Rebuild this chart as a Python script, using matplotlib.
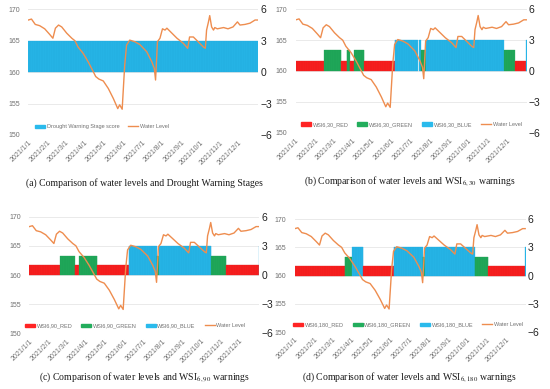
import matplotlib
matplotlib.use("Agg")
import matplotlib.pyplot as plt
from matplotlib.patches import Patch
from matplotlib.lines import Line2D
import numpy as np
import pandas as pd

plt.rcParams['font.family'] = ['Liberation Sans', 'DejaVu Sans']
plt.rcParams['mathtext.fontset'] = 'stix'

# water level (left axis): day of year -> level
wl_day = [0, 5, 11, 18, 26, 34, 39, 43, 48, 53, 61, 69, 74, 79, 87, 95, 103, 107,
          112, 119, 127, 135, 142, 145, 149, 153, 156, 161, 169, 177, 188, 196, 200,
          202, 205, 209, 213, 217, 220, 228, 236, 246, 253, 256, 262, 270, 278, 281,
          283, 286, 288, 291, 294, 296, 300, 310, 317, 325, 332, 336, 344, 352, 360, 364]
wl_level = [168.3, 168.45, 167.6, 167.4, 166.9, 166.0, 165.4, 167.0, 167.5, 167.2,
            166.2, 165.4, 165.0, 164.0, 163.0, 161.65, 160.1, 159.3, 158.9, 158.6,
            157.4, 155.8, 154.2, 154.8, 154.1, 161.1, 164.3, 165.1, 164.85, 164.4,
            163.25, 161.65, 160.6, 158.75, 164.85, 165.4, 166.9, 166.7, 167.0, 166.2,
            165.4, 164.6, 163.8, 165.6, 165.6, 164.8, 164.0, 163.8, 166.7, 168.0,
            169.0, 167.2, 166.7, 167.1, 166.9, 167.1, 166.9, 167.2, 168.0, 167.5,
            167.6, 167.8, 168.3, 168.3]

# warning stages (right axis) as runs: (start day, end day, stage) 1=red 2=green 3=blue
runs_a = [(0, 365, 3)]
runs_b = [(0, 45, 1), (45, 72, 2), (72, 80, 1), (80, 85, 2), (85, 92, 1), (92, 108, 2),
          (108, 156, 1), (156, 193, 3), (195, 197, 3), (197, 205, 2), (205, 329, 3),
          (329, 346, 2), (346, 364, 1), (364, 365, 3)]
runs_c = [(0, 49, 1), (49, 72, 2), (72, 79, 1), (79, 108, 2), (108, 158, 1), (158, 202, 3),
          (202, 206, 2), (206, 289, 3), (289, 313, 2), (313, 364, 1), (364, 365, 3)]
runs_d = [(0, 79, 1), (79, 91, 2), (91, 108, 3), (108, 156, 1), (156, 202, 3), (202, 205, 2),
          (205, 284, 3), (284, 306, 2), (306, 364, 1), (364, 365, 3)]

stage_colors = {1: '#FF2424', 2: '#22AD5C', 3: '#2ABAEC'}
stage_edges = {1: '#E81818', 2: '#1C9E52', 3: '#1FA9DD'}
orange = '#EE8D4F'
start = pd.Timestamp('2021-01-01')

panels = [
    # axes rect, runs, legend names, legend x, caption, caption xy
    ([0.0515, 0.653, 0.418, 0.323], runs_a, ['Drought Warning Stage score'], 0.32,
     '(a) Comparison of water levels and Drought Warning Stages', (0.262, 0.517)),
    ([0.538, 0.659, 0.42, 0.317], runs_b, ['WSI6,30_RED', 'WSI6,30_GREEN', 'WSI6,30_BLUE'], 0.5,
     '(b) Comparison of water levels and WSI$_{6,30}$ warnings', (0.745, 0.517)),
    ([0.0533, 0.143, 0.418, 0.30], runs_c, ['WSI6,90_RED', 'WSI6,90_GREEN', 'WSI6,90_BLUE'], 0.46,
     '(c) Comparison of water levels and WSI$_{6,90}$ warnings', (0.262, 0.014)),
    ([0.536, 0.146, 0.42, 0.291], runs_d, ['WSI6,180_RED', 'WSI6,180_GREEN', 'WSI6,180_BLUE'], 0.49,
     '(d) Comparison of water levels and WSI$_{6,180}$ warnings', (0.745, 0.014)),
]

fig = plt.figure(figsize=(5.5, 3.89), dpi=100)

wl_dates = start + pd.to_timedelta(wl_day, unit='D')
months = pd.date_range('2021-01-01', '2021-12-01', freq='MS')

for rect, runs, names, legx, caption, cxy in panels:
    ax2 = fig.add_axes(rect)
    ax = ax2.twinx()
    ax.set_zorder(ax2.get_zorder() + 1)
    ax.patch.set_visible(False)
    ax2.yaxis.tick_right()
    ax.yaxis.tick_left()

    # daily bars
    for s, e, st in runs:
        days = np.arange(s, e)
        ax2.bar(start + pd.to_timedelta(days, unit='D'), [st] * len(days), width=1.0,
                align='edge', color=stage_colors[st], edgecolor=stage_edges[st], linewidth=0.2)
    ax2.set_ylim(-6, 6)
    ax2.set_yticks([-6, -3, 0, 3, 6])
    ax2.set_yticklabels(['\u22126', '\u22123', '0', '3', '6'])
    ax2.yaxis.grid(True, color='#E6E6E6', linewidth=0.6)
    ax2.set_axisbelow(True)
    ax2.tick_params(axis='y', length=0, labelsize=7.5, colors='#222222', pad=1.5)

    ax.plot(wl_dates, wl_level, color=orange, linewidth=1.0)
    ax.set_ylim(150, 170)
    ax.set_yticks([150, 155, 160, 165, 170])
    ax.tick_params(axis='y', length=0, labelsize=5, colors='#707070', pad=6)

    ax2.set_xlim(start, pd.Timestamp('2022-01-01'))
    ax2.set_xticks(months)
    ax2.set_xticklabels([f'2021/{m.month}/1' for m in months], rotation=45, ha='right',
                        rotation_mode='anchor')
    ax2.tick_params(axis='x', length=0, labelsize=5, colors='#707070', pad=3)

    for a in (ax, ax2):
        for sp in a.spines.values():
            sp.set_visible(False)

    handles = [Patch(color=stage_colors[3 if len(names) == 1 else i + 1]) for i in range(len(names))]
    handles.append(Line2D([], [], color=orange, linewidth=1.0))
    ax.legend(handles, names + ['Water Level'], loc='center', ncol=4,
              bbox_to_anchor=(legx, 0.065), frameon=False, fontsize=4,
              handlelength=1.8, handleheight=0.6, handletextpad=0.3, columnspacing=1.6,
              labelcolor='#707070')

    fig.text(cxy[0], cxy[1], caption, ha='center', va='bottom', fontsize=7,
             family='Liberation Serif', color='#1a1a1a')

fig.savefig('out.png', dpi=100)
